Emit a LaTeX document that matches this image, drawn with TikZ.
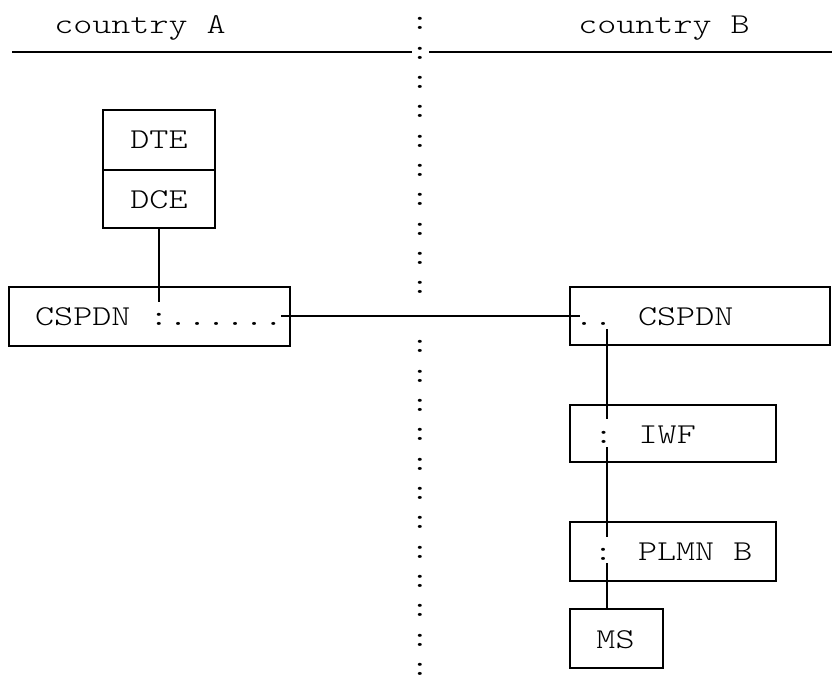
\documentclass[tikz,border=0pt]{standalone}
\usepackage{fontspec}
\newfontfamily\courbase{lmmonolt10-regular.otf}[FakeStretch=1.26]
\newcommand\courfont{\courbase\fontsize{28.8}{30}\selectfont}
\begin{document}
\begin{tikzpicture}[x=1pt,y=-1pt,
  box/.style={draw,line width=2pt,rectangle,inner sep=0pt,outer sep=0pt},
  txt/.style={inner sep=0pt,anchor=base,font=\courfont},
  conn/.style={line width=2pt}]
\useasboundingbox (0,0) rectangle (832,678);
% header
\node[txt] (ca) at (140,33.3) {country A};
\node[txt] (cb) at (664,33.3) {country B};
\coordinate (hl1) at (12,51.7); \coordinate (hl2) at (411.7,51.7);
\coordinate (hr1) at (429.3,51.7); \coordinate (hr2) at (832,51.7);
\draw[conn,line width=2.4pt] (hl1) -- (hl2);
\draw[conn,line width=2.4pt] (hr1) -- (hr2);
% vertical border made of colons
\foreach \k in {0,...,9,11,12,...,22}{
  \node[txt] (sep\k) at (420,{24.3+29.35*\k+5.5}) {:};
}
% boxes
\node[box,minimum width=112pt,minimum height=60pt] (dte) at (159,140) {};
\node[box,minimum width=112pt,minimum height=58pt] (dce) at (159,199) {};
\node[box,minimum width=281pt,minimum height=59pt] (csl) at (149.5,316.5) {};
\node[box,minimum width=260pt,minimum height=58pt] (csr) at (700,316) {};
\node[box,minimum width=206pt,minimum height=57pt] (iwf) at (673,433.5) {};
\node[box,minimum width=206pt,minimum height=59pt] (plmn) at (673,551.5) {};
\node[box,minimum width=93pt,minimum height=59pt] (ms) at (616.5,638.5) {};
% texts
\node[txt] (tdte) at (159,148) {DTE};
\node[txt] (tdce) at (159,208) {DCE};
\node[txt] (tcsl) at (159,325) {CSPDN :......};
\node[txt] (tcsr) at (654,325) {.. CSPDN};
\node[txt] (tiwf) at (645,443) {: IWF};
\node[txt] (tplmn) at (673,560) {: PLMN B};
\node[txt] (tms) at (615.5,648) {MS};
% connectors
\coordinate (a1) at (159,302);
\draw[conn] (dce.south) -- (a1);
\coordinate (h1) at (281,316); \coordinate (h2) at (580,316);
\draw[conn] (h1) -- (h2);
\coordinate (v1) at (607,329); \coordinate (v2) at (607,419);
\draw[conn] (v1) -- (v2);
\coordinate (v3) at (607,447); \coordinate (v4) at (607,537);
\draw[conn] (v3) -- (v4);
\coordinate (v5) at (607,563);
\draw[conn] (v5) -- (v5 |- ms.north);
\end{tikzpicture}
\end{document}
